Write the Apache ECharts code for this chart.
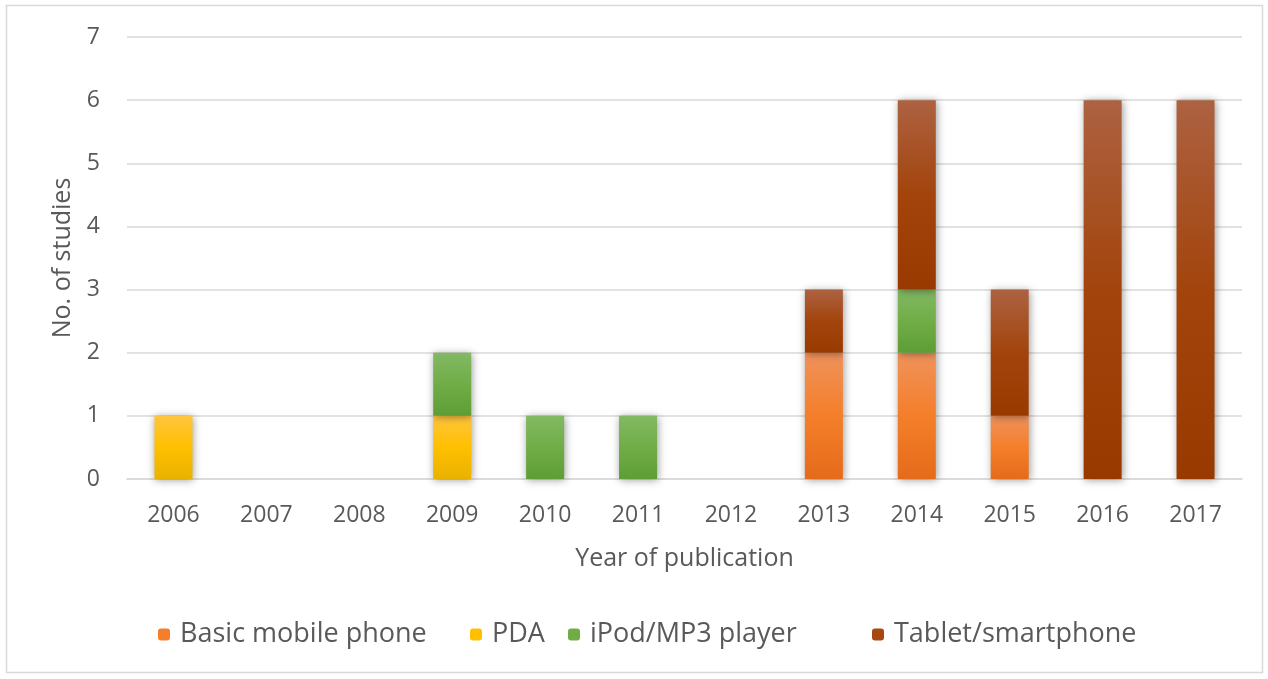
<!DOCTYPE html>
<html><head><meta charset="utf-8">
<script src="https://cdn.jsdelivr.net/npm/echarts@6/dist/echarts.min.js"></script>
<style>html,body{margin:0;padding:0;background:#fff}#c{width:1268px;height:679px}</style>
</head><body><div id="c"></div>
<script>
const years = ['2006','2007','2008','2009','2010','2011','2012','2013','2014','2015','2016','2017'];
const basicPhone = [0,0,0,0,0,0,0,2,2,1,0,0];
const pda        = [1,0,0,1,0,0,0,0,0,0,0,0];
const ipod       = [0,0,0,1,1,1,0,0,1,0,0,0];
const tablet     = [0,0,0,0,0,0,0,1,3,2,6,6];
const seriesNames = ['Basic mobile phone','PDA','iPod/MP3 player','Tablet/smartphone'];
const yTicks = [0,1,2,3,4,5,6,7];

function grad(top, mid, bot){
  return new echarts.graphic.LinearGradient(0,0,0,1,[
    {offset:0,color:top},{offset:0.5,color:mid},{offset:1,color:bot}]);
}
const FONT = '"Open Sans", "Liberation Sans", sans-serif';
const TXT = '#595959';
const legendColors = ['#F47F2A','#FFC000','#70AD47','#A8470F'];
const legendLefts = [153, 465, 563, 867];
function mk(name, data, g){
  return {
    name, type:'bar', stack:'s', data, barWidth:38,
    itemStyle:{color:g, shadowBlur:8, shadowColor:'rgba(0,0,0,0.4)', shadowOffsetX:1, shadowOffsetY:1},
    emphasis:{disabled:true}
  };
}
const chart = echarts.init(document.getElementById('c'));
chart.setOption({
  animation:false,
  graphic:[{type:'rect', shape:{x:6.5,y:5.5,width:1256,height:667}, style:{fill:'none',stroke:'#D9D9D9',lineWidth:1.5}, silent:true}],
  grid:{left:127,right:26,top:37,bottom:200},
  legend: seriesNames.map((n,i)=>({
    bottom:26, left:legendLefts[i], itemWidth:12, itemHeight:12,
    textStyle:{color:TXT,fontSize:27,fontFamily:FONT,padding:[0,0,0,5]},
    data:[{name:n, itemStyle:{color:legendColors[i]}}]
  })),
  xAxis:{
    type:'category', data:years,
    name:'Year of publication', nameLocation:'middle', nameGap:67,
    nameTextStyle:{color:TXT,fontSize:25,fontFamily:FONT},
    axisLine:{lineStyle:{color:'#D9D9D9',width:1.5}},
    axisTick:{show:false},
    axisLabel:{color:TXT,fontSize:23,fontFamily:FONT,margin:25}
  },
  yAxis:{
    type:'value', min:0, max:7, interval:1,
    name:'No. of studies', nameLocation:'middle', nameGap:52, nameRotate:90,
    nameTextStyle:{color:TXT,fontSize:25,fontFamily:FONT},
    axisLabel:{color:TXT,fontSize:23,fontFamily:FONT,margin:27,
      formatter:(v)=>yTicks.includes(v)?String(v):''},
    splitLine:{lineStyle:{color:'#D9D9D9',width:1.5}},
    axisLine:{show:false}, axisTick:{show:false}
  },
  series:[
    mk(seriesNames[0], basicPhone, grad('#F0925C','#F47F2A','#E56B1A')),
    mk(seriesNames[1], pda, grad('#FFC53E','#FFC000','#E9B100')),
    mk(seriesNames[2], ipod, grad('#82B963','#70AD47','#5E9D36')),
    mk(seriesNames[3], tablet, grad('#AD6242','#A3440C','#983A00'))
  ]
});
</script></body></html>
